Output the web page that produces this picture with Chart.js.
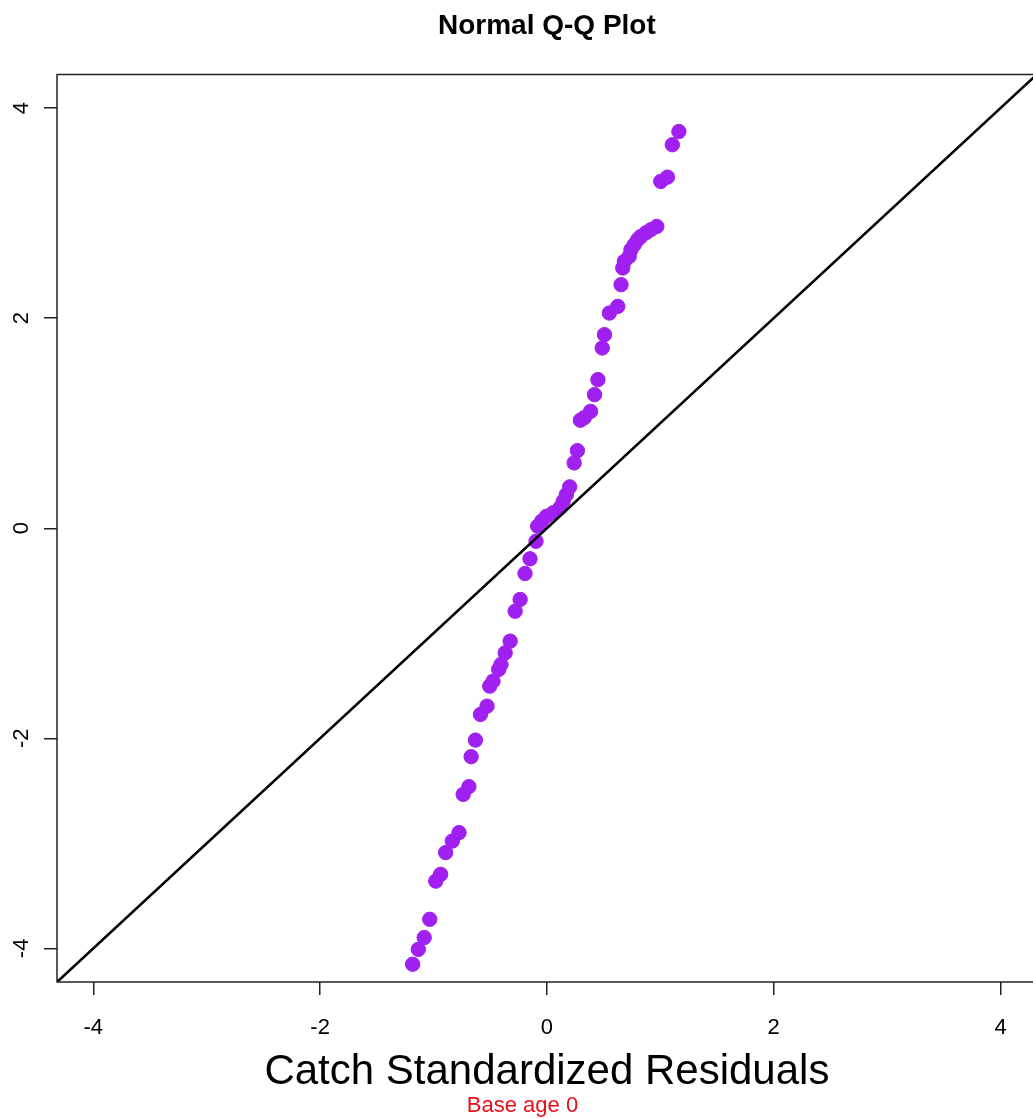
<!DOCTYPE html>
<html>
<head>
<meta charset="utf-8">
<script src="https://cdn.jsdelivr.net/npm/chart.js@4"></script>
<style>
  body { margin: 0; background: #fff; }
  #wrap { width: 1033px; height: 1119px; overflow: hidden; }
</style>
</head>
<body>
<div id="wrap"><canvas id="myChart" width="1045" height="1119"></canvas></div>
<script>
// 점 데이터 (theoretical x, sample y)
const xVals = [-1.184, -1.134, -1.082, -1.033, -0.980, -0.937, -0.893, -0.834, -0.775, -0.738,
  -0.688, -0.668, -0.630, -0.586, -0.528, -0.504, -0.475, -0.425, -0.405, -0.368,
  -0.324, -0.280, -0.236, -0.193, -0.149, -0.096, -0.081, -0.046, -0.003, 0.056,
  0.114, 0.144, 0.172, 0.201, 0.240, 0.269, 0.295, 0.330, 0.385, 0.420,
  0.450, 0.488, 0.508, 0.551, 0.625, 0.654, 0.669, 0.683, 0.726, 0.741,
  0.770, 0.800, 0.829, 0.873, 0.916, 0.969, 1.004, 1.063, 1.106, 1.164];
const yVals = [-4.151, -4.009, -3.897, -3.723, -3.359, -3.295, -3.088, -2.978, -2.898, -2.534,
  -2.460, -2.175, -2.017, -1.773, -1.694, -1.503, -1.456, -1.344, -1.297, -1.186,
  -1.075, -0.790, -0.678, -0.431, -0.291, -0.124, 0.019, 0.067, 0.114, 0.147,
  0.194, 0.257, 0.321, 0.394, 0.622, 0.739, 1.028, 1.053, 1.113, 1.272,
  1.415, 1.716, 1.843, 2.049, 2.112, 2.319, 2.478, 2.540, 2.588, 2.652,
  2.699, 2.747, 2.778, 2.813, 2.842, 2.873, 3.302, 3.343, 3.651, 3.777];

// y = x 기준선
const lineX = [-4.32, 4.32];
const lineY = [-4.32, 4.32];

const tickVals = [-4, -2, 0, 2, 4];
const axisMin = -4.32;
const axisMax = 4.32;

const mainTitle = 'Normal Q-Q Plot';
const fontFam = '"Liberation Sans", Arial, sans-serif';

let points = [];
for (let i = 0; i < xVals.length; i++) {
  points.push({ x: xVals[i], y: yVals[i] });
}
let refLine = [];
for (let i = 0; i < lineX.length; i++) {
  refLine.push({ x: lineX[i], y: lineY[i] });
}

// 박스, 제목(플롯 영역 가운데), 세로 눈금 라벨 (R 처럼 90도 회전)
const boxPlugin = {
  id: 'box',
  afterDraw(chart) {
    const ctx = chart.ctx;
    const a = chart.chartArea;
    ctx.save();
    ctx.strokeStyle = '#222';
    ctx.lineWidth = 1.5;
    ctx.strokeRect(a.left, a.top, a.right - a.left, a.bottom - a.top);

    ctx.fillStyle = '#000';
    ctx.font = 'bold 28px ' + fontFam;
    ctx.textAlign = 'center';
    ctx.textBaseline = 'alphabetic';
    ctx.fillText(mainTitle, (a.left + a.right) / 2, 34);

    const ys = chart.scales.y;
    ctx.font = '22px ' + fontFam;
    ctx.textBaseline = 'middle';
    ys.ticks.forEach(function (t) {
      const py = ys.getPixelForValue(t.value);
      ctx.save();
      ctx.translate(22, py);
      ctx.rotate(-Math.PI / 2);
      ctx.fillText(String(t.value), 0, 0);
      ctx.restore();
    });
    ctx.restore();
  }
};

const ctx = document.getElementById('myChart');

new Chart(ctx, {
  type: 'scatter',
  data: {
    datasets: [{
      type: 'line',
      data: refLine,
      borderColor: '#000',
      borderWidth: 2.6,
      pointRadius: 0,
      fill: false
    }, {
      data: points,
      backgroundColor: '#A020F0',
      borderColor: '#A020F0',
      borderWidth: 1,
      pointRadius: 7.2,
      pointHoverRadius: 7.2
    }]
  },
  options: {
    responsive: false,
    animation: false,
    events: [],
    layout: { padding: { top: 74.5 } },
    plugins: {
      legend: { display: false },
      tooltip: { enabled: false },
      title: { display: false },
      subtitle: {
        display: true,
        position: 'bottom',
        text: 'Base age 0',
        color: '#E8101A',
        font: { family: fontFam, size: 22, lineHeight: 1 },
        padding: { top: 0, bottom: 2 }
      }
    },
    scales: {
      x: {
        type: 'linear',
        min: axisMin,
        max: axisMax,
        afterBuildTicks: function (s) { s.ticks = tickVals.map(v => ({ value: v })); },
        afterFit: function (s) { s.height = 113; },
        border: { display: false },
        grid: { drawOnChartArea: false, drawTicks: true, tickLength: 13, color: '#222', lineWidth: 1.5 },
        ticks: {
          color: '#000',
          padding: 20,
          maxRotation: 0,
          font: { family: fontFam, size: 22 }
        },
        title: {
          display: true,
          text: 'Catch Standardized Residuals',
          color: '#000',
          font: { family: fontFam, size: 42, lineHeight: 1 },
          padding: { top: 0, bottom: 2 }
        }
      },
      y: {
        type: 'linear',
        min: axisMin,
        max: axisMax,
        afterBuildTicks: function (s) { s.ticks = tickVals.map(v => ({ value: v })); },
        afterFit: function (s) { s.width = 57; },
        border: { display: false },
        grid: { drawOnChartArea: false, drawTicks: true, tickLength: 13, color: '#222', lineWidth: 1.5 },
        ticks: { display: false }
      }
    }
  },
  plugins: [boxPlugin]
});
</script>
</body>
</html>
